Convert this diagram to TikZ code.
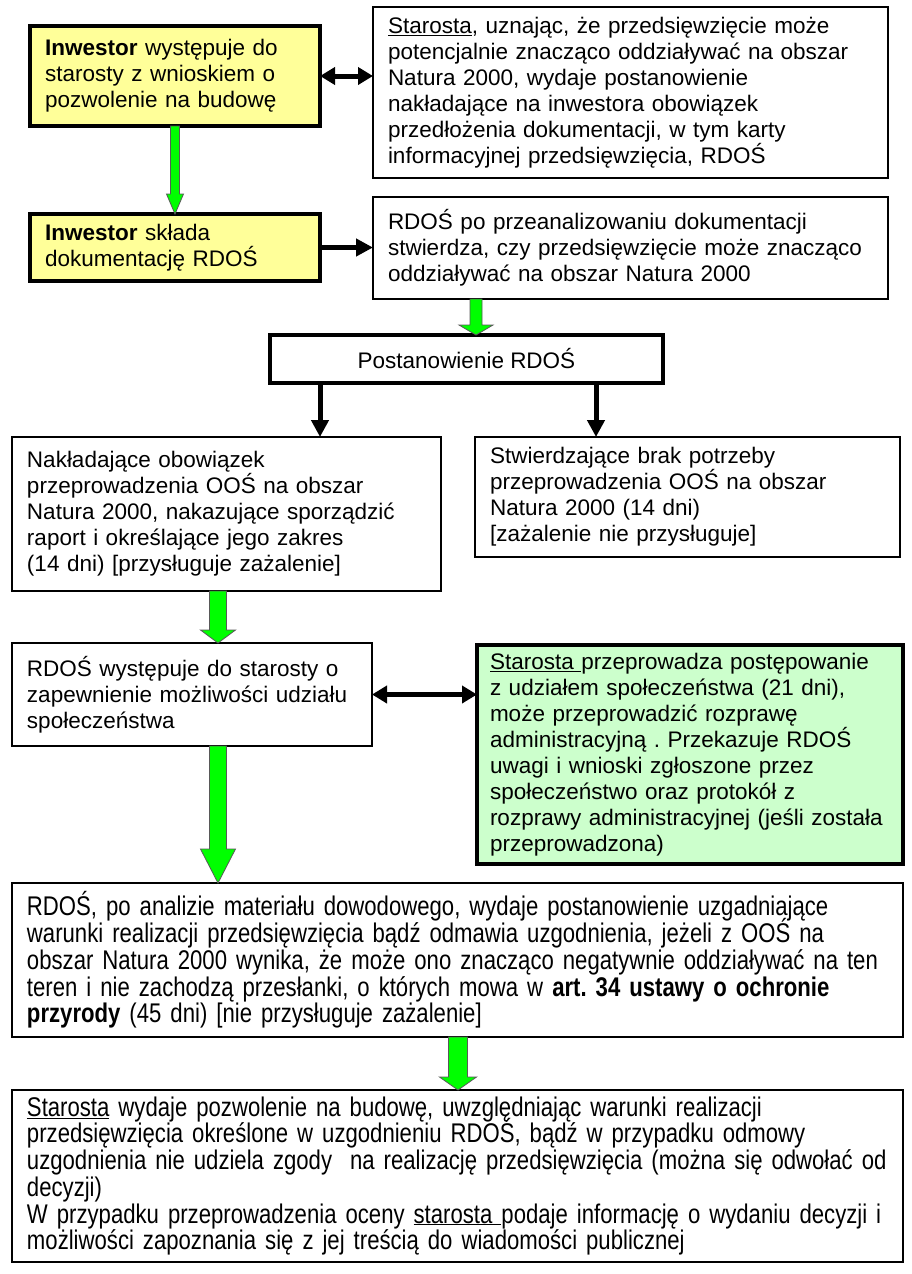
\documentclass[tikz,border=0pt]{standalone}
\usepackage{fontspec}
\setmainfont{Liberation Sans}
\newfontfamily\narrowfont[FakeStretch=0.82]{Liberation Sans}
\newcommand\widefont{\narrowfont\fontsize{27}{26.7}\selectfont\lineskiplimit=-20pt\relax}
\usetikzlibrary{arrows.meta,calc}
\definecolor{boxyellow}{HTML}{FFFF99}
\definecolor{boxgreen}{HTML}{CCFFCC}
\definecolor{arrowgreen}{HTML}{00FF00}
\frenchspacing
\tikzset{
  box/.style={draw,line width=1.3pt,fill=white,anchor=north west,align=left,
    inner xsep=15pt,inner ysep=4pt,outer sep=0pt,font=\fontsize{22.5}{26}\selectfont},
  investor/.style={box,fill=boxyellow,line width=4pt},
  public/.style={box,fill=boxgreen,line width=4pt},
  widebox/.style={box,font=\widefont},
  blackarrow/.style={line width=5pt,-{Triangle[length=17pt,width=17pt]}},
  twoway/.style={line width=5pt,{Triangle[length=15pt,width=17pt]}-{Triangle[length=15pt,width=17pt]}},
  greenhead/.style={fill=arrowgreen,draw=black!65,line width=0.8pt,line join=miter}
}
% block arrow: x, from, to, half shaft, half head, head length
\newcommand\greenarrow[6]{%
  \draw[greenhead] let \p1=(#2.south), \p2=(#3.north) in
    (#1pt-#4pt,\y1) -- (#1pt-#4pt,\y2+#6pt) -- (#1pt-#5pt,\y2+#6pt) -- (#1pt,\y2)
    -- (#1pt+#5pt,\y2+#6pt) -- (#1pt+#4pt,\y2+#6pt) -- (#1pt+#4pt,\y1) -- cycle;}
\begin{document}
\begin{tikzpicture}[x=1pt,y=-1pt]
  \useasboundingbox[fill=white] (0,0) rectangle (911,1274);
  % first row
  \node[investor,text width=260pt,minimum height=100pt] (A) at (30,26)
    {\textbf{Inwestor} występuje do\\ starosty z wnioskiem o\\ pozwolenie na budowę};
  \node[box,text width=485pt,minimum height=171pt] (B) at (373,7)
    {\underline{Starosta}, uznając, że przedsięwzięcie może\\ potencjalnie znacząco oddziaływać na obszar\\
     Natura 2000, wydaje postanowienie\\ nakładające na inwestora obowiązek\\
     przedłożenia dokumentacji, w tym karty\\ informacyjnej przedsięwzięcia, RDOŚ};
  % second row
  \node[investor,text width=260pt,minimum height=67pt] (C) at (30,214)
    {\textbf{Inwestor} składa\\ dokumentację RDOŚ};
  \node[box,text width=485pt,minimum height=102pt] (D) at (373,197)
    {RDOŚ po przeanalizowaniu dokumentacji\\ stwierdza, czy przedsięwzięcie może znacząco\\
     oddziaływać na obszar Natura 2000};
  \node[box,line width=4pt,align=center,minimum width=393pt,minimum height=48pt] (E) at (270,335)
    {Postanowienie RDOŚ};
  % decision
  \node[box,text width=399pt,minimum height=154pt] (F) at (12,437)
    {Nakładające obowiązek\\ przeprowadzenia OOŚ na obszar\\ Natura 2000, nakazujące sporządzić\\
     raport i określające jego zakres\\ (14 dni) [przysługuje zażalenie]};
  \node[box,text width=395pt,minimum height=120pt] (G) at (475,437)
    {Stwierdzające brak potrzeby\\ przeprowadzenia OOŚ na obszar\\ Natura 2000 (14 dni)\\
     {}[zażalenie nie przysługuje]};
  % participation
  \node[box,text width=330pt,minimum height=103pt] (H) at (12,643)
    {RDOŚ występuje do starosty o\\ zapewnienie możliwości udziału\\ społeczeństwa};
  \node[public,inner xsep=13pt,text width=400pt,minimum height=219pt] (I) at (477,645)
    {\underline{Starosta\ }przeprowadza postępowanie\\ z udziałem społeczeństwa (21 dni),\\
     może przeprowadzić rozprawę\\ administracyjną . Przekazuje RDOŚ\\
     uwagi i wnioski zgłoszone przez\\ społeczeństwo oraz protokół z\\
     \mbox{rozprawy administracyjnej (jeśli została}\\ przeprowadzona)};
  % final steps
  \node[widebox,text width=861pt,minimum height=154pt] (J) at (12,883)
    {\mbox{RDOŚ, po analizie materiału dowodowego, wydaje postanowienie uzgadniające}\\
     \mbox{warunki realizacji przedsięwzięcia bądź odmawia uzgodnienia, jeżeli z OOŚ na}\\
     \mbox{obszar Natura 2000 wynika, że może ono znacząco negatywnie oddziaływać na ten}\\
     \mbox{teren i nie zachodzą przesłanki, o których mowa w \textbf{art. 34 ustawy o ochronie}}\\
     \textbf{przyrody} (45 dni) [nie przysługuje zażalenie]};
  \node[widebox,text width=861pt,minimum height=172pt] (K) at (12,1090)
    {\mbox{\underline{Starosta} wydaje pozwolenie na budowę, uwzględniając warunki realizacji}\\
     \mbox{przedsięwzięcia określone w uzgodnieniu RDOŚ, bądź w przypadku odmowy}\\
     \mbox{uzgodnienia nie udziela zgody\ \ na realizację przedsięwzięcia (można się odwołać od}\\
     decyzji)\\
     \mbox{W przypadku przeprowadzenia oceny \underline{starosta\ }podaje informację o wydaniu decyzji i}\\
     \mbox{możliwości zapoznania się z jej treścią do wiadomości publicznej}};
  % connectors
  \draw[twoway] (A.east) -- (A.east -| B.west);
  \draw[blackarrow] (C.east) -- (C.east -| D.west);
  \draw[twoway] (H.east) -- (H.east -| I.west);
  \coordinate (leftdrop) at (320,0);
  \coordinate (rightdrop) at (596,0);
  \draw[blackarrow] (E.south -| leftdrop) -- (F.north -| leftdrop);
  \draw[blackarrow] (E.south -| rightdrop) -- (G.north -| rightdrop);
  \greenarrow{175}{A}{C}{4.5}{8.5}{20}
  \greenarrow{476}{D}{E}{6}{17}{10}
  \greenarrow{218}{F}{H}{8.5}{17.5}{13}
  \greenarrow{218}{H}{J}{8.5}{17.5}{34}
  \greenarrow{458}{J}{K}{9.5}{18.5}{13}
\end{tikzpicture}
\end{document}
